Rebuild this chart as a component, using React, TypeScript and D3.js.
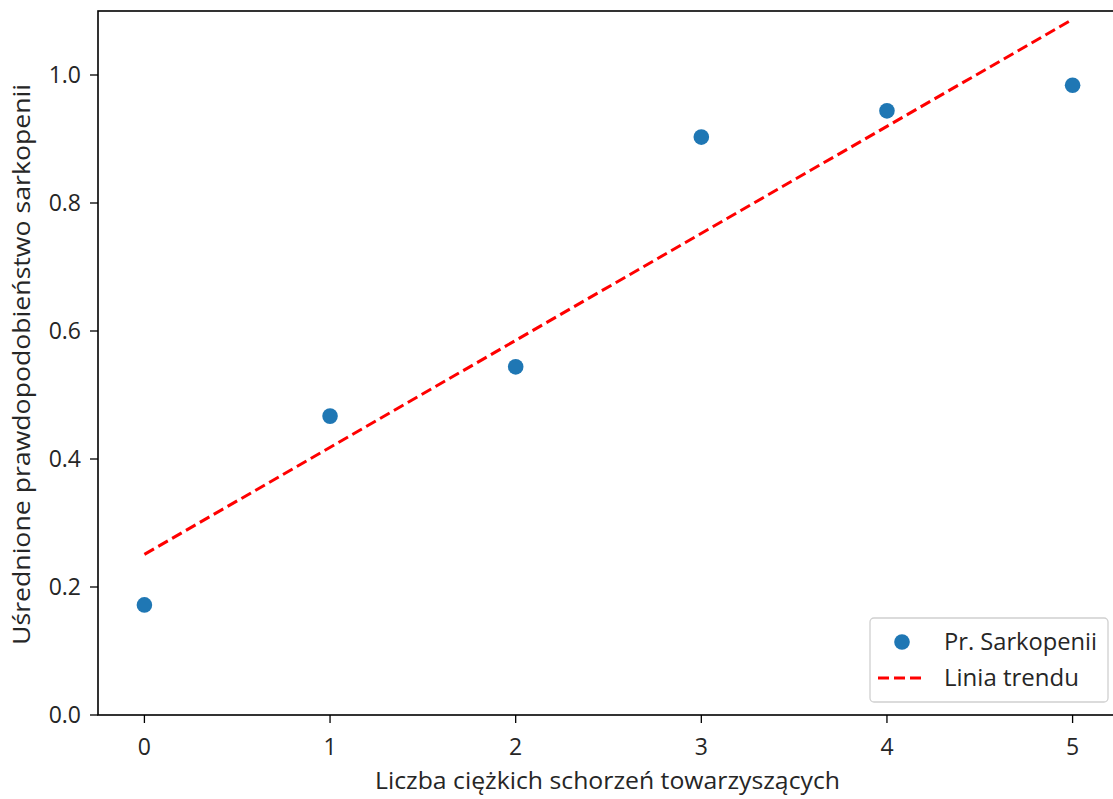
import React from "react";
import * as d3 from "d3";

const categories = [0, 1, 2, 3, 4, 5];
const probValues = [0.172, 0.467, 0.544, 0.903, 0.944, 0.984];
const trendX = [0, 5];
const trendY = [0.251, 1.087];
const xTicks = [0, 1, 2, 3, 4, 5];
const yTicks = [0.0, 0.2, 0.4, 0.6, 0.8, 1.0];
const xLabel = "Liczba ciężkich schorzeń towarzyszących";
const yLabel = "Uśrednione prawdopodobieństwo sarkopenii";
const legendLabels = ["Pr. Sarkopenii", "Linia trendu"];

const W = 1113;
const H = 799;
const left = 98, right = 1119, top = 11, bottom = 715;
const font = "'Open Sans', sans-serif";
const textColor = "#262626";
const fs = 23;

export default function App() {
  const x = d3.scaleLinear().domain([-0.25, 5.25]).range([left, right]);
  const y = d3.scaleLinear().domain([0, 1.1]).range([bottom, top]);
  const line = d3.line<number>().x((_, i) => x(trendX[i])).y((d) => y(d));

  return (
    <svg width={W} height={H} style={{ position: "absolute", left: 0, top: 0, background: "#fff" }}>
      <rect x={0} y={0} width={W} height={H} fill="#fff" />
      <path d={line(trendY) || ""} fill="none" stroke="#ff0000" strokeWidth={3} strokeDasharray="11,5" />
      {categories.map((c, i) => (
        <circle key={c} cx={x(c)} cy={y(probValues[i])} r={7.8} fill="#1f77b4" />
      ))}
      <rect x={left} y={top} width={right - left} height={bottom - top} fill="none" stroke="#000" strokeWidth={1.6} />
      {xTicks.map((t) => (
        <g key={t}>
          <line x1={x(t)} x2={x(t)} y1={bottom} y2={bottom + 8} stroke="#000" strokeWidth={1.3} />
          <text x={x(t)} y={747} dy="0.35em" textAnchor="middle" fontFamily={font} fontSize={fs} fill={textColor}>
            {t}
          </text>
        </g>
      ))}
      {yTicks.map((t) => (
        <g key={t}>
          <line x1={left - 8} x2={left} y1={y(t)} y2={y(t)} stroke="#000" strokeWidth={1.3} />
          <text x={left - 17} y={y(t)} dy="0.35em" textAnchor="end" fontFamily={font} fontSize={fs} fill={textColor}>
            {t.toFixed(1)}
          </text>
        </g>
      ))}
      <text x={375} y={781} dy="0.35em" textLength={465} lengthAdjust="spacingAndGlyphs" fontFamily={font} fontSize={24} fill={textColor}>
        {xLabel}
      </text>
      <text
        transform={`translate(22, 645) rotate(-90)`}
        dy="0.35em"
        textLength={561}
        lengthAdjust="spacingAndGlyphs"
        fontFamily={font}
        fontSize={24}
        fill={textColor}
      >
        {yLabel}
      </text>
      <g>
        <rect x={870} y={618} width={238} height={84} rx={4} fill="#fff" fillOpacity={0.8} stroke="#d0d0d0" strokeWidth={1.3} />
        <circle cx={902} cy={642} r={7.8} fill="#1f77b4" />
        <text x={944} y={642} dy="0.35em" textLength={153} lengthAdjust="spacingAndGlyphs" fontFamily={font} fontSize={fs} fill={textColor}>
          {legendLabels[0]}
        </text>
        <line x1={878} x2={925} y1={678} y2={678} stroke="#ff0000" strokeWidth={3} strokeDasharray="11,5" />
        <text x={944} y={678} dy="0.35em" textLength={135} lengthAdjust="spacingAndGlyphs" fontFamily={font} fontSize={fs} fill={textColor}>
          {legendLabels[1]}
        </text>
      </g>
    </svg>
  );
}
